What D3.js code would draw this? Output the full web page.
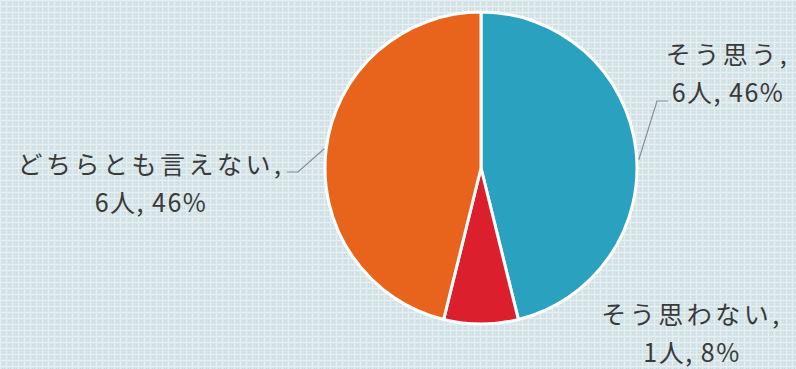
<!DOCTYPE html>
<html>
<head>
<meta charset="utf-8">
<script src="https://cdn.jsdelivr.net/npm/d3@7"></script>
<style>
  html, body { margin: 0; padding: 0; background: #d9e7eb; }
  svg { display: block; }
</style>
</head>
<body>
<svg id="chart" width="796" height="369"></svg>
<script>
// Survey answers and respondent counts
const categories = ["そう思う", "そう思わない", "どちらとも言えない"];
const counts = [6, 1, 6];
const percents = [46, 8, 46];
const colors = ["#2aa2bf", "#db1f2c", "#e8631b"];

const W = 796, H = 369;
const cx = 481, cy = 168, R = 156;

const svg = d3.select("#chart");

// Fine woven texture for the backdrop
const defs = svg.append("defs");
const pat = defs.append("pattern")
  .attr("id", "weave").attr("width", 6).attr("height", 6)
  .attr("patternUnits", "userSpaceOnUse");
pat.append("rect").attr("width", 6).attr("height", 6).attr("fill", "#d8e6ea");
pat.append("rect").attr("x", 0).attr("y", 0).attr("width", 6).attr("height", 1).attr("fill", "#e6f0f2");
pat.append("rect").attr("x", 0).attr("y", 0).attr("width", 1).attr("height", 6).attr("fill", "#e4eef1");
[[2, 2], [4, 2], [2, 4], [4, 4]].forEach(([x, y]) =>
  pat.append("rect").attr("x", x).attr("y", y).attr("width", 1).attr("height", 1).attr("fill", "#c5d8de"));
svg.append("rect").attr("width", W).attr("height", H).attr("fill", "url(#weave)");

const data = categories.map((c, i) => ({ name: c, count: counts[i], pct: percents[i], color: colors[i] }));

const pie = d3.pie().sort(null).value(d => d.count);
const arcs = pie(data);
const arc = d3.arc().innerRadius(0).outerRadius(R);

const g = svg.append("g").attr("transform", `translate(${cx},${cy})`);
g.selectAll("path.slice")
  .data(arcs)
  .join("path")
  .attr("class", "slice")
  .attr("d", arc)
  .attr("fill", d => d.data.color)
  .attr("stroke", "#ffffff")
  .attr("stroke-width", 3)
  .attr("stroke-linejoin", "round");

// Label placement: centre of text block, plus optional leader
const labelLayout = [
  { x: 728, y: 53, leader: { from: [668, 101], elbow: [657, 101], angle: 87 } },
  { x: 692, y: 313, leader: null },
  { x: 151, y: 163, leader: { from: [287, 172], elbow: [298, 172], angle: -83 } }
];

const polar = (deg, r) => {
  const a = deg * Math.PI / 180;
  return [cx + r * Math.sin(a), cy - r * Math.cos(a)];
};

const leaders = svg.append("g");
labelLayout.forEach(l => {
  if (!l.leader) return;
  const end = polar(l.leader.angle, R + 2);
  leaders.append("polyline")
    .attr("points", [l.leader.from, l.leader.elbow, end].map(p => p.join(",")).join(" "))
    .attr("fill", "none")
    .attr("stroke", "#8a8f92")
    .attr("stroke-width", 1.2);
});

const labels = svg.append("g")
  .attr("font-family", "'Noto Sans CJK JP', 'Noto Sans', sans-serif")
  .attr("font-size", 25)
  .attr("fill", "#3a3a3a")
  .attr("text-anchor", "middle");

data.forEach((d, i) => {
  const l = labelLayout[i];
  const t = labels.append("text")
    .attr("x", l.x).attr("y", l.y)
    .attr("dominant-baseline", "central");
  t.append("tspan").attr("x", l.x).attr("dy", 0)
    .style("letter-spacing", "3.5px").text(`${d.name},`);
  t.append("tspan").attr("x", l.x).attr("dy", 38)
    .style("letter-spacing", "1.5px").text(`${d.count}人, ${d.pct}%`);
});
</script>
</body>
</html>
